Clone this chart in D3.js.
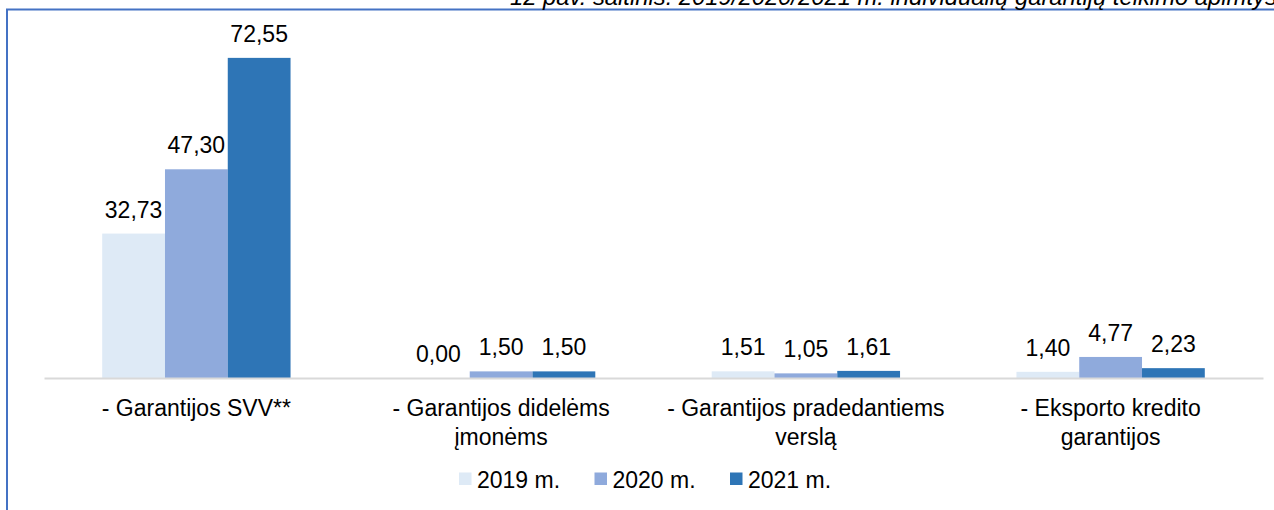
<!DOCTYPE html>
<html>
<head>
<meta charset="utf-8">
<script src="https://cdn.jsdelivr.net/npm/d3@7"></script>
<style>
  html, body { margin: 0; padding: 0; background: #fff; overflow: hidden; }
  svg { display: block; font-family: "Liberation Sans", Arial, sans-serif; }
</style>
</head>
<body>
<svg id="chart" width="1274" height="510"></svg>
<script>
// ---- data ----
const categories = [
  "- Garantijos SVV**",
  "- Garantijos didelėms įmonėms",
  "- Garantijos pradedantiems verslą",
  "- Eksporto kredito garantijos"
];
const categoryLines = [
  ["- Garantijos SVV**"],
  ["- Garantijos didelėms", "įmonėms"],
  ["- Garantijos pradedantiems", "verslą"],
  ["- Eksporto kredito", "garantijos"]
];
const seriesNames = ["2019 m.", "2020 m.", "2021 m."];
const values2019 = [32.73, 0.00, 1.51, 1.40];
const values2020 = [47.30, 1.50, 1.05, 4.77];
const values2021 = [72.55, 1.50, 1.61, 2.23];
const seriesValues = [values2019, values2020, values2021];
const colors = ["#DEEAF6", "#8FAADC", "#2E75B6"];
const titleText = "12 pav. šaltinis: 2019/2020/2021 m. individualių garantijų teikimo apimtys";

// ---- layout ----
const svg = d3.select("#chart");
const fontSize = 23;

// frame
svg.append("rect")
  .attr("x", 7).attr("y", 9.5)
  .attr("width", 1400).attr("height", 600)
  .attr("fill", "none")
  .attr("stroke", "#4472C4")
  .attr("stroke-width", 2);

// title (clipped by the top edge, as in the source)
svg.append("text")
  .attr("x", 510).attr("y", 5)
  .attr("text-anchor", "start")
  .attr("font-style", "italic")
  .attr("font-size", 23.8)
  .attr("fill", "#000")
  .text(titleText);

const x0 = d3.scaleBand()
  .domain(categories)
  .range([44, 1263])
  .paddingInner(0.382)
  .paddingOuter(0.191);

const x1 = d3.scaleBand()
  .domain(seriesNames)
  .range([0, x0.bandwidth()])
  .padding(0);

const y = d3.scaleLinear()
  .domain([0, 80])
  .range([378, 25]);

const rows = categories.map((c, i) => ({
  cat: c,
  vals: seriesNames.map((s, j) => ({ s, v: seriesValues[j][i], j }))
}));

const groups = svg.append("g").selectAll("g")
  .data(rows).join("g")
  .attr("transform", d => `translate(${x0(d.cat)},0)`);

groups.selectAll("rect")
  .data(d => d.vals).join("rect")
  .attr("x", d => x1(d.s))
  .attr("y", d => y(d.v))
  .attr("width", x1.bandwidth())
  .attr("height", d => y(0) - y(d.v))
  .attr("fill", d => colors[d.j]);

groups.selectAll("text.val")
  .data(d => d.vals).join("text")
  .attr("class", "val")
  .attr("x", d => x1(d.s) + x1.bandwidth() / 2)
  .attr("y", d => y(d.v) - 16)
  .attr("text-anchor", "middle")
  .attr("font-size", fontSize)
  .attr("fill", "#000")
  .text(d => d3.format(".2f")(d.v).replace(".", ","));

// x axis line
const xAxis = d3.axisBottom(x0).tickSize(0).tickFormat("");
const ax = svg.append("g").attr("transform", `translate(0,${y(0)})`).call(xAxis);
ax.select(".domain").attr("stroke", "#D9D9D9").attr("stroke-width", 2);

// category labels
const catLabels = svg.append("g").selectAll("text")
  .data(categories).join("text")
  .attr("x", d => x0(d) + x0.bandwidth() / 2)
  .attr("y", 416)
  .attr("text-anchor", "middle")
  .attr("font-size", fontSize)
  .attr("fill", "#000");
catLabels.each(function(d, i) {
  const t = d3.select(this);
  categoryLines[i].forEach((line, k) => {
    t.append("tspan")
      .attr("x", x0(d) + x0.bandwidth() / 2)
      .attr("dy", k === 0 ? 0 : 29)
      .text(line);
  });
});

// legend
const legendX = d3.scalePoint().domain(seriesNames).range([459, 730]);
const leg = svg.append("g").selectAll("g")
  .data(seriesNames).join("g")
  .attr("transform", d => `translate(${legendX(d)},0)`);
leg.append("rect")
  .attr("x", 0).attr("y", 472.5)
  .attr("width", 12.5).attr("height", 12.5)
  .attr("fill", (d, i) => colors[i]);
leg.append("text")
  .attr("x", 18).attr("y", 487.5)
  .attr("font-size", fontSize)
  .attr("fill", "#000")
  .text(d => d);
</script>
</body>
</html>
